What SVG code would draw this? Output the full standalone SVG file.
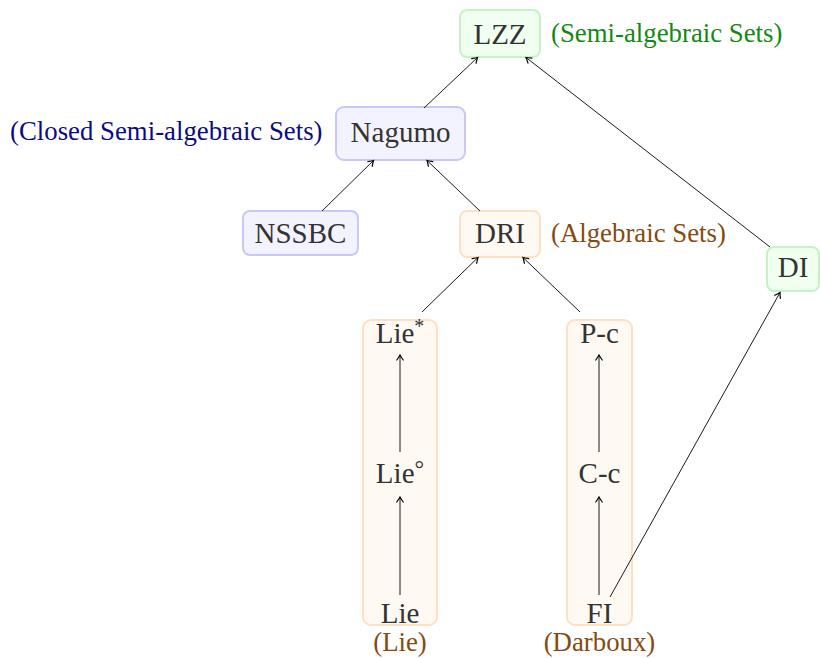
<svg xmlns="http://www.w3.org/2000/svg" width="820" height="658" viewBox="0 0 820 658">
<defs>
<marker id="arr" markerWidth="10" markerHeight="10" refX="0" refY="0" viewBox="-6 -5 8 10" orient="auto" markerUnits="userSpaceOnUse">
<path d="M -5 -3.2 Q -1.5 -0.8 0 0 Q -1.5 0.8 -5 3.2" fill="none" stroke="#000" stroke-width="1.2" stroke-linecap="round"/>
</marker>
<style>
.box { stroke-width: 2; }
.g { fill: #f0fff0; stroke: #c4f4c4; }
.b { fill: #f3f3ff; stroke: #c8c8f8; }
.o { fill: #fff9f3; stroke: #ffe0c2; }
.lbl { font-family: "Liberation Serif", "Times New Roman", serif; font-size: 29px; fill: #333; text-anchor: middle; }
.ann { font-family: "Liberation Serif", "Times New Roman", serif; font-size: 26.8px; }
.edge { stroke: #000; stroke-width: 0.9; fill: none; marker-end: url(#arr); }
</style>
</defs>
<g id="LZZ">
<rect class="box g" x="460" y="10" width="80" height="47" rx="7"/>
<text class="lbl" x="500" y="44">LZZ</text>
</g>
<g id="LZZ-label">
<text class="ann" x="551" y="42" fill="#128a12">(Semi-algebraic Sets)</text>
</g>
<g id="Nagumo">
<rect class="box b" x="336" y="107" width="129" height="53" rx="8"/>
<text class="lbl" x="400.5" y="142">Nagumo</text>
</g>
<g id="Nagumo-label">
<text class="ann" x="10" y="140" fill="#0c0c80">(Closed Semi-algebraic Sets)</text>
</g>
<g id="NSSBC">
<rect class="box b" x="243" y="211" width="115" height="44" rx="7"/>
<text class="lbl" x="300.5" y="243">NSSBC</text>
</g>
<g id="DRI">
<rect class="box o" x="460" y="211" width="80" height="46" rx="7"/>
<text class="lbl" x="500" y="243">DRI</text>
</g>
<g id="DRI-label">
<text class="ann" x="551" y="242" fill="#864a10">(Algebraic Sets)</text>
</g>
<g id="DI">
<rect class="box g" x="767" y="247" width="52" height="44" rx="7"/>
<text class="lbl" x="793" y="277">DI</text>
</g>
<g id="LieColumn">
<rect class="box o" x="363" y="320" width="74" height="305" rx="8"/>
<text class="lbl" x="400" y="343">Lie<tspan font-size="20" dy="-10">*</tspan></text>
<text class="lbl" x="400" y="483">Lie<tspan font-size="24" dy="-6">°</tspan></text>
<text class="lbl" x="400" y="623">Lie</text>
</g>
<g id="Lie-label">
<text class="ann" x="400" y="651" fill="#864a10" text-anchor="middle">(Lie)</text>
</g>
<g id="PcColumn">
<rect class="box o" x="567" y="320" width="65" height="305" rx="8"/>
<text class="lbl" x="599.5" y="343">P-c</text>
<text class="lbl" x="599.5" y="483">C-c</text>
<text class="lbl" x="599.5" y="623">FI</text>
</g>
<g id="FI-label">
<text class="ann" x="599.5" y="651" fill="#864a10" text-anchor="middle">(Darboux)</text>
</g>
<g id="connectors">
<line class="edge" x1="424" y1="108" x2="477.5" y2="57.5"/>
<line class="edge" x1="770" y1="247" x2="526" y2="57.5"/>
<line class="edge" x1="322" y1="211" x2="373.5" y2="160.5"/>
<line class="edge" x1="480" y1="211" x2="427" y2="160.5"/>
<line class="edge" x1="422" y1="312" x2="478" y2="257.5"/>
<line class="edge" x1="580" y1="312" x2="523" y2="257.5"/>
<line class="edge" x1="400" y1="595" x2="400" y2="497"/>
<line class="edge" x1="400" y1="452" x2="400" y2="355"/>
<line class="edge" x1="599" y1="595" x2="599" y2="497"/>
<line class="edge" x1="599" y1="452" x2="599" y2="355"/>
<line class="edge" x1="610" y1="597" x2="780" y2="292.5"/>
</g>
</svg>
